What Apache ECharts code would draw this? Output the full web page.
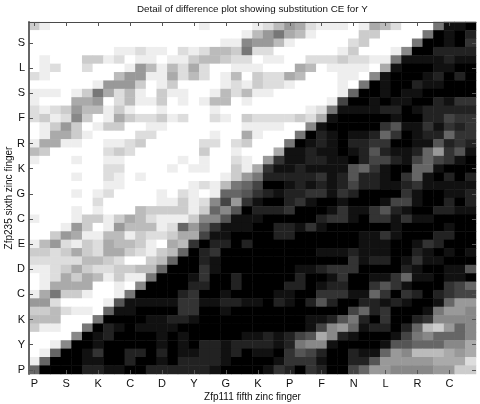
<!DOCTYPE html>
<html>
<head>
<meta charset="utf-8">
<style>html,body{margin:0;padding:0;background:#fff}#c{width:480px;height:404px}</style>
<script src="https://cdn.jsdelivr.net/npm/echarts@6/dist/echarts.min.js"></script>
</head>
<body>
<div id="c"></div>
<script>
var xTickLabels = ['P','S','K','C','D','Y','G','K','P','F','N','L','R','C'];
var yTickLabels = ['P','Y','K','C','D','E','C','G','K','R','F','S','L','S'];
// grey level of each cell (0 black .. f white), top row first, left to right
var rowLevels = [
"ceffff ffffff ffffef fffedb 9adeee feabdf ff7110",
"ffffff ffffff ffffff ffeb97 abefff fccfff f70102",
"ffffff ffffff ffffff ee899b efffff dcffff 700103",
"ffffff ffeede efdedb bc7ddf fffffe cfffe8 002222",
"fefffc cedfee feecbb cddfee ffdddc ddee71 111211",
"fedffd fffe9b ebdadf feeeff fabfee eefa10 001100",
"deffff ffb99e eadbdf ebfcdd abfffe ef8100 012020",
"ffffff e999cf ecffff edecdd effffe f70100 211000",
"eeefec 7adbef ceeffe bdbeef fffffe 600101 100000",
"efffaa 9fdbee cfefeb bfefff ffffe4 001011 002133",
"dedc9b beceff effffe ffffff ffed71 111220 122222",
"dced8c feacdd cedffd efcddd dcda10 000010 022433",
"fec9cf eccffe efffff ffeeee ff8100 000351 131323",
"feaace ffffdd fffffe ffaeff f70210 112630 122633",
"eaaeef feedcf ffffdd fdcfff 701210 223300 115232",
"bcffff fdcdff ffffcf fefffa 112110 125211 269351",
"efffef feefff ffefef fdef93 112211 024421 464310",
"ffffff fddfff fefeef fcea31 121111 563100 661000",
"ffffef fdefef ffffff ec9722 222312 522103 610202",
"ffffff feefff fffede b76400 121212 422112 311111",
"ffffef edffff efdefe 665321 223313 200003 100112",
"ffffff dfffff eeced8 493100 231001 000144 100202",
"ffffef efffbc cccec6 850222 300013 113521 002211",
"efffec cecabd eeec88 511100 000233 103313 110000",
"fffe9c fe9bbb ed6963 111002 213100 000010 000100",
"ffc9ae ebbecd dcaa41 100002 200000 011310 002200",
"eb9dec dabbce fab302 202000 000000 011100 132000",
"ccdcac daacde cb6023 000000 000111 211100 210101",
"dddddb bcdffc b60021 000000 000000 312201 311000",
"eedcac ddccbb 600031 000000 011233 300002 100115",
"fedaca becee7 000130 020000 020013 001136 110110",
"feaaaa ffef80 000220 020000 220122 003531 000346",
"ea7cce ffe700 002300 100001 100333 116303 202344",
"99dfff fe5111 113311 221102 102520 022121 001699",
"ccbdee f61100 003300 100000 000000 462300 017998",
"bbbfff 700001 122100 000000 001125 720300 238888",
"ceeff7 021011 110000 000000 001489 612202 6bc968",
"ffff80 120000 101000 001121 245a82 100014 786668",
"ffe800 100000 101022 122221 278810 000155 66688a",
"fe6001 300220 201122 120110 354200 211698 bbba9a",
"e60001 100200 102222 100001 333100 225999 99aaad",
"600002 211002 222221 000013 203200 469988 8899cc"
];

var N = rowLevels.length;
function cats(labels){
  var out = [];
  for (var i = 0; i < N; i++) out.push(i % 3 === 0 ? labels[i / 3] : ' ' + i);
  return out;
}
var data = [];
rowLevels.forEach(function(r, ri){
  var s = r.replace(/ /g, '');
  for (var c = 0; c < s.length; c++) data.push([c, N - 1 - ri, parseInt(s[c], 16)]);
});
var font = '"Liberation Sans", Arial, sans-serif';
var spine = '#4a4a4a';
function axis(type, labels, pos, show, extra){
  var a = {
    type: 'category', data: cats(labels), position: pos, z: 10,
    boundaryGap: true,
    axisLine: {show: true, onZero: false, lineStyle: {color: spine, width: 1}},
    axisTick: {show: true, inside: true, length: 4, interval: 2, alignWithLabel: true, lineStyle: {color: '#555', width: 1}},
    axisLabel: {show: show, interval: 2, color: '#111', fontFamily: font, fontSize: 11, margin: 4},
    splitLine: {show: false}
  };
  for (var k in extra) a[k] = extra[k];
  return a;
}
var chart = echarts.init(document.getElementById('c'), null, {renderer: 'canvas'});
chart.setOption({
  animation: false,
  backgroundColor: '#fff',
  title: {
    text: 'Detail of difference plot showing substitution CE for Y',
    left: 132, top: -1,
    textStyle: {fontFamily: font, fontSize: 9.8, fontWeight: 'normal', color: '#111'}
  },
  grid: {left: 29, top: 22, width: 447, height: 352, containLabel: false, outerBoundsMode: 'none'},
  xAxis: [
    axis('x', xTickLabels, 'bottom', true, {
      name: 'Zfp111 fifth zinc finger', nameLocation: 'middle', nameGap: 18, nameMoveOverlap: false,
      nameTextStyle: {fontFamily: font, fontSize: 10, color: '#111'},
      axisLine: {show: false}
    }),
    axis('x', xTickLabels, 'top', false, {})
  ],
  yAxis: [
    axis('y', yTickLabels, 'left', true, {
      name: 'Zfp235 sixth zinc finger', nameLocation: 'middle', nameGap: 15, nameMoveOverlap: false,
      nameTextStyle: {fontFamily: font, fontSize: 10, color: '#111'},
      axisLine: {show: true, onZero: false, lineStyle: {color: '#666', width: 2}}
    }),
    axis('y', yTickLabels, 'right', false, {axisLine: {show: false}})
  ],
  visualMap: {show: false, min: 0, max: 15, dimension: 2, seriesIndex: 0, inRange: {color: ['#000000', '#ffffff']}},
  series: [{
    type: 'heatmap', data: data, progressive: 0,
    itemStyle: {borderWidth: 0}, emphasis: {disabled: true}
  }]
});
</script>
</body>
</html>
